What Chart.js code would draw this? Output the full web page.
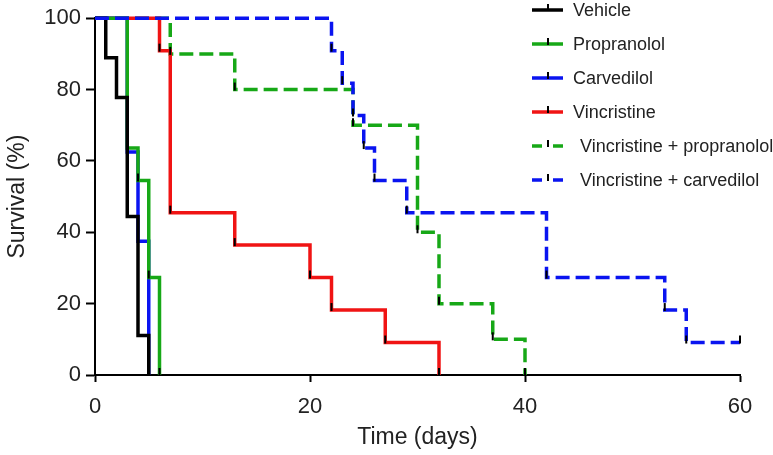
<!DOCTYPE html>
<html>
<head>
<meta charset="utf-8">
<script src="https://cdn.jsdelivr.net/npm/chart.js@4"></script>
<style>
  body { margin: 0; background: #fff; }
  #wrap { width: 773px; height: 455px; }
</style>
</head>
<body>
<div id="wrap"><canvas id="myChart" width="773" height="455"></canvas></div>
<script>
// Kaplan-Meier curves: day of each step and survival (%) after it
var groupNames = ['Vehicle', 'Propranolol', 'Carvedilol', 'Vincristine',
  'Vincristine + propranolol', 'Vincristine + carvedilol'];

var vehicleDays = [0, 1, 2, 3, 4, 5];
var vehicleSurv = [100, 88.9, 77.8, 44.4, 11.1, 0];

var propranololDays = [0, 3, 4, 5, 6];
var propranololSurv = [100, 63.6, 54.5, 27.3, 0];

var carvedilolDays = [0, 3, 4, 5];
var carvedilolSurv = [100, 62.5, 37.5, 0];

var vincristineDays = [0, 6, 7, 13, 20, 22, 27, 32];
var vincristineSurv = [100, 90.9, 45.5, 36.4, 27.3, 18.2, 9.1, 0];

var vinPropDays = [0, 7, 13, 24, 30, 32, 37, 40];
var vinPropSurv = [100, 90, 80, 70, 40, 20, 10, 0];

var vinCarvDays = [0, 22, 23, 24, 25, 26, 29, 42, 53, 55, 60];
var vinCarvSurv = [100, 90.9, 81.8, 72.7, 63.6, 54.5, 45.5, 27.3, 18.2, 9.1, 9.1];

var xTicks = [0, 20, 40, 60];
var yTicks = [0, 20, 40, 60, 80, 100];

function pts(days, surv) {
  var out = [];
  for (let i = 0; i < days.length; i++) out.push({x: days[i], y: surv[i]});
  return out;
}

var GREEN = '#17a817', BLUE = '#0a14f0', RED = '#f01414';
var FONT = '"Liberation Sans", Arial, sans-serif';

function ds(i, days, surv, color, dashed, order) {
  return {
    label: groupNames[i],
    data: pts(days, surv),
    borderColor: color,
    borderWidth: 3.5,
    borderDash: dashed ? [14, 6] : [],
    stepped: true,
    pointRadius: 0,
    fill: false,
    clip: 6,
    order: order,
    dashedKey: dashed
  };
}

// small black marks on every step, like the prism plot
const stepMarks = {
  id: 'stepMarks',
  afterDatasetsDraw(chart) {
    const c = chart.ctx;
    c.save();
    c.strokeStyle = '#000';
    c.lineWidth = 2;
    chart.data.datasets.forEach((d, i) => {
      const meta = chart.getDatasetMeta(i);
      meta.data.forEach((p, j) => {
        if (j === 0) return;
        c.beginPath();
        c.moveTo(p.x, p.y - 7);
        c.lineTo(p.x, p.y + 1);
        c.stroke();
      });
    });
    c.restore();
  }
};

// legend sits inside the plot, top right
const insideLegend = {
  id: 'insideLegend',
  afterDraw(chart) {
    const c = chart.ctx;
    c.save();
    c.font = '18px ' + FONT;
    c.textBaseline = 'middle';
    c.fillStyle = '#222';
    chart.data.datasets.forEach((d, i) => {
      const y = 10 + i * 34;
      c.strokeStyle = d.borderColor;
      c.lineWidth = 3.5;
      c.beginPath();
      if (d.dashedKey) {
        c.moveTo(532, y); c.lineTo(542, y);
        c.moveTo(553, y); c.lineTo(563, y);
      } else {
        c.moveTo(532, y); c.lineTo(563, y);
      }
      c.stroke();
      c.strokeStyle = '#000';
      c.lineWidth = 2;
      c.beginPath();
      c.moveTo(548, y - 6); c.lineTo(548, y + 1);
      c.stroke();
      c.fillText(d.label, d.dashedKey ? 580 : 573, y + 1);
    });
    c.restore();
  }
};

const ctx = document.getElementById('myChart');
var myChart = new Chart(ctx, {
  type: 'line',
  data: {
    datasets: [
      ds(0, vehicleDays, vehicleSurv, '#000', false, 1),
      ds(1, propranololDays, propranololSurv, GREEN, false, 2),
      ds(2, carvedilolDays, carvedilolSurv, BLUE, false, 3),
      ds(3, vincristineDays, vincristineSurv, RED, false, 4),
      ds(4, vinPropDays, vinPropSurv, GREEN, true, 5),
      ds(5, vinCarvDays, vinCarvSurv, BLUE, true, 0)
    ]
  },
  options: {
    responsive: false,
    animation: false,
    layout: { padding: { left: 0, right: 33, top: 16, bottom: 0 } },
    plugins: { legend: { display: false }, tooltip: { enabled: false } },
    scales: {
      x: {
        type: 'linear',
        min: 0, max: 60,
        afterBuildTicks: (s) => { s.ticks = xTicks.map(v => ({value: v})); },
        afterFit: (s) => { s.height = 80; },
        border: { color: '#000', width: 2 },
        grid: { drawOnChartArea: false, tickLength: 7, tickColor: '#000', tickWidth: 2 },
        ticks: { color: '#222', padding: 12, font: { family: FONT, size: 22 } },
        title: { display: true, text: 'Time (days)', color: '#222', padding: { top: 3 },
          font: { family: FONT, size: 23 } }
      },
      y: {
        min: 0, max: 100,
        afterBuildTicks: (s) => { s.ticks = yTicks.map(v => ({value: v})); },
        afterFit: (s) => { s.width = 95; },
        border: { color: '#000', width: 2 },
        grid: { drawOnChartArea: false, tickLength: 9, tickColor: '#000', tickWidth: 2 },
        ticks: { color: '#222', padding: 5, font: { family: FONT, size: 22 } },
        title: { display: true, text: 'Survival (%)', color: '#222', padding: { bottom: 4 },
          font: { family: FONT, size: 23 } }
      }
    }
  },
  plugins: [stepMarks, insideLegend]
});
</script>
</body>
</html>
